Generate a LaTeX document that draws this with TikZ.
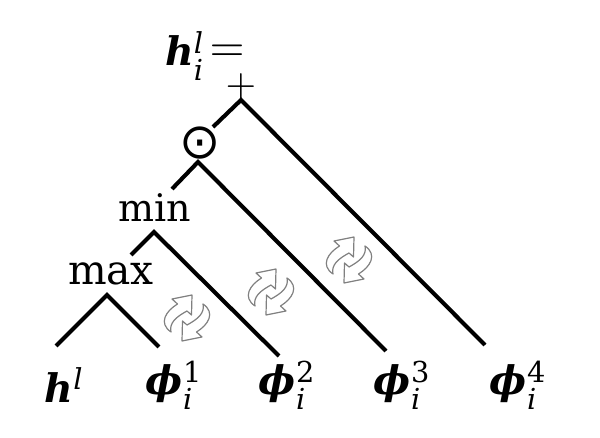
\documentclass[tikz,border=0pt]{standalone}
\usepackage{amsmath}
\usepackage{fontspec}
\setmainfont{DejaVu Serif}
\newfontfamily\symfont{DejaVu Sans}
\newcommand{\bi}[1]{\textbf{\textit{#1}}}
\newcommand{\scr}[1]{\text{\fontsize{20.5}{21}\selectfont #1}}
\newcommand{\philabel}[1]{\bi{ϕ}$^{\scr{\normalfont #1}}_{\scr{\itshape i}}$}
\tikzset{
    op/.style={inner sep=0pt, font=\fontsize{27}{30}\selectfont},
    leaf/.style={inner sep=0pt, font=\fontsize{28}{32}\selectfont},
    branch/.style={line width=2.9pt, line join=miter},
    swaparrow/.style={draw=black!50, fill=white, line width=0.85pt, line join=round},
    swap/.pic={
        \foreach \ang in {0,180} {
            \draw[swaparrow, rotate=\ang] (5,-23) -- (-15,-19) -- (-9.5,-14)
                .. controls (-21,-7) and (-29,5) .. (-16,14)
                .. controls (-18,5) and (-11,-1) .. (0,-7)
                -- (4.5,-3) -- cycle;
        }
    }
}
\begin{document}
\begin{tikzpicture}[x=0.025cm, y=-0.025cm]
    \useasboundingbox (0,0) rectangle (600,438);
    % labels along the top
    \node[leaf, anchor=base west] (result) at (165,66) {\bi{h}$^{\scr{\itshape l}}_{\scr{\itshape i}}$};
    \node[inner sep=0pt] (equals) at (227,53) {\scalebox{3.2}{$=$}};
    \node[inner sep=0pt] (plus) at (241,87) {\scalebox{2.8}{$+$}};
    \node[op, font=\symfont\fontsize{35}{38}\selectfont] (dot) at (200,143) {⊙};
    \node[op] (minop) at (155,208) {min};
    \node[op, font=\fontsize{29}{30}\selectfont] (maxop) at (111,274) {max};
    % bottom row
    \node[leaf] (hleaf) at (64,385) {\bi{h}$^{\scr{\itshape l}}$};
    \node[leaf] (phione) at (174,385) {\philabel{1}};
    \node[leaf] (phitwo) at (287,385) {\philabel{2}};
    \node[leaf] (phithree) at (402,385) {\philabel{3}};
    \node[leaf] (phifour) at (518,385) {\philabel{4}};
    % branch ends
    \coordinate (plusapex) at (241,100);
    \coordinate (plusleft) at (213,127);
    \coordinate (plusright) at (485,345);
    \coordinate (dotapex) at (198,162);
    \coordinate (dotleft) at (172,189);
    \coordinate (dotright) at (386,351);
    \coordinate (minapex) at (154,232);
    \coordinate (minleft) at (131,255);
    \coordinate (minright) at (279,356);
    \coordinate (maxapex) at (107,295);
    \coordinate (maxleft) at (56,346);
    \coordinate (maxright) at (159,347);
    \draw[branch] (plusleft) -- (plusapex) -- (plusright);
    \draw[branch] (dotleft) -- (dotapex) -- (dotright);
    \draw[branch] (minleft) -- (minapex) -- (minright);
    \draw[branch] (maxleft) -- (maxapex) -- (maxright);
    % swap icons
    \pic at (187,318) {swap};
    \pic at (271,292) {swap};
    \pic at (349,260) {swap};
\end{tikzpicture}
\end{document}
